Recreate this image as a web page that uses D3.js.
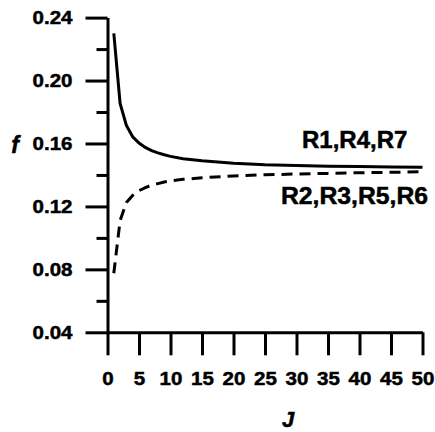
<!DOCTYPE html>
<html>
<head>
<meta charset="utf-8">
<script src="https://cdn.jsdelivr.net/npm/d3@7"></script>
<style>
  body { margin: 0; background: #fff; }
  text { font-family: "Liberation Sans", Arial, sans-serif; font-weight: bold; fill: #000;
         stroke: #000; stroke-width: 0.5px; }
</style>
</head>
<body>
<div id="chart"></div>
<script>
// Data
const jValues = [1, 2, 3, 4, 5, 6, 7, 8, 9, 10, 12, 15, 20, 25, 30, 35, 40, 45, 50]
const fUpper = [0.2300, 0.1855, 0.1715, 0.1643, 0.1603, 0.1575, 0.1555, 0.1540, 0.1528, 0.1518,
                0.1503, 0.1490, 0.1475, 0.1465, 0.1460, 0.1456, 0.1453, 0.1451, 0.1449]
const fLower = [0.0775, 0.1110, 0.1225, 0.1270, 0.1300, 0.1320, 0.1335, 0.1345, 0.1355, 0.1362,
                0.1372, 0.1382, 0.1394, 0.1401, 0.1406, 0.1410, 0.1414, 0.1417, 0.1420]
const seriesNames = ['R1,R4,R7', 'R2,R3,R5,R6']
const xTicks = [0, 5, 10, 15, 20, 25, 30, 35, 40, 45, 50]
const yTicks = [0.04, 0.08, 0.12, 0.16, 0.20, 0.24]
const yMinorTicks = [0.06, 0.10, 0.14, 0.18, 0.22]

// Dimensions
const dims = {
  width: 435,
  height: 432,
  left: 107.5,
  right: 422.5,
  top: 17.6,
  bottom: 332.3
}

const svg = d3.select('#chart')
  .append('svg')
  .attr('width', dims.width)
  .attr('height', dims.height)

// Scales
const xScale = d3.scaleLinear().domain([0, 50]).range([dims.left, dims.right])
const yScale = d3.scaleLinear().domain([0.04, 0.24]).range([dims.bottom, dims.top])

// stretch text a little wider, like the original
function stretch(sel, k) {
  sel.each(function () {
    const w = this.getComputedTextLength()
    d3.select(this).attr('textLength', w * k).attr('lengthAdjust', 'spacingAndGlyphs')
  })
}

// Minor y ticks
svg.append('g')
  .attr('transform', `translate(${dims.left},0)`)
  .call(d3.axisLeft(yScale).tickValues(yMinorTicks).tickSize(11).tickSizeOuter(0).tickFormat(''))
  .call(g => g.select('.domain').remove())
  .call(g => g.selectAll('line').attr('stroke', '#000').attr('stroke-width', 3))

// Y axis
const yAxisGroup = svg.append('g')
  .attr('transform', `translate(${dims.left},0)`)
  .call(d3.axisLeft(yScale).tickValues(yTicks).tickSize(22).tickSizeOuter(0).tickPadding(13)
    .tickFormat(d3.format('.2f')))
yAxisGroup.select('.domain').attr('stroke', '#000').attr('stroke-width', 3)
yAxisGroup.selectAll('line').attr('stroke', '#000').attr('stroke-width', 3)
yAxisGroup.selectAll('text')
  .style('font-size', '19px')
  .call(stretch, 1.08)

// X axis
const xAxisGroup = svg.append('g')
  .attr('transform', `translate(0,${dims.bottom})`)
  .call(d3.axisBottom(xScale).tickValues(xTicks).tickSize(23).tickSizeOuter(0).tickPadding(16))
xAxisGroup.select('.domain').attr('stroke', '#000').attr('stroke-width', 3)
xAxisGroup.selectAll('line').attr('stroke', '#000').attr('stroke-width', 3)
xAxisGroup.selectAll('text')
  .style('font-size', '19px')
  .call(stretch, 1.08)

// Curves
const line = d3.line()
  .x((d, i) => xScale(jValues[i]))
  .y(d => yScale(d))

svg.append('path')
  .datum(fUpper)
  .attr('d', line)
  .attr('fill', 'none')
  .attr('stroke', '#000')
  .attr('stroke-width', 3)

svg.append('path')
  .datum(fLower)
  .attr('d', line)
  .attr('fill', 'none')
  .attr('stroke', '#000')
  .attr('stroke-width', 3)
  .attr('stroke-dasharray', '11,7')

// Series labels
svg.append('text')
  .attr('x', 302)
  .attr('y', 147.5)
  .style('font-size', '24px')
  .text(seriesNames[0])

svg.append('text')
  .attr('x', 281)
  .attr('y', 204)
  .style('font-size', '24px')
  .text(seriesNames[1])
  .call(stretch, 1.03)

// Axis titles
svg.append('text')
  .attr('x', 15)
  .attr('y', 153)
  .style('text-anchor', 'middle')
  .style('font-style', 'italic')
  .style('font-size', '23px')
  .text('f')

svg.append('text')
  .attr('x', 288)
  .attr('y', 427)
  .style('text-anchor', 'middle')
  .style('font-style', 'italic')
  .style('font-size', '22px')
  .text('J')
</script>
</body>
</html>
